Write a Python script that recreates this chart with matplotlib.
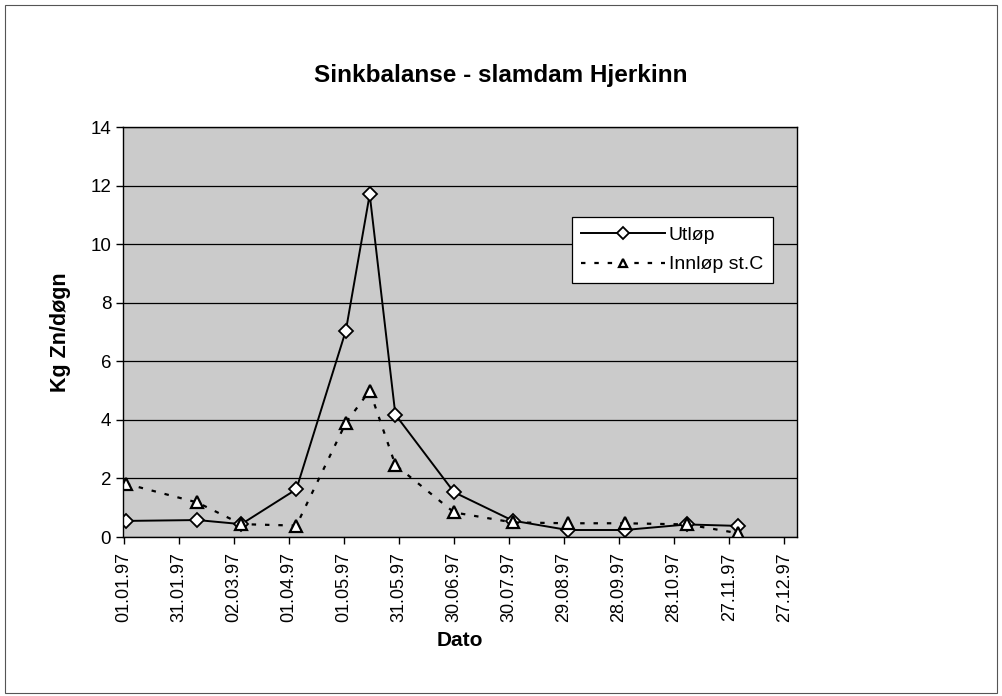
import matplotlib
matplotlib.use('Agg')
import matplotlib.pyplot as plt
from matplotlib.patches import Rectangle
import datetime as dt

# data
dates = ['02.01.97', '10.02.97', '06.03.97', '05.04.97', '02.05.97', '15.05.97',
         '29.05.97', '30.06.97', '01.08.97', '31.08.97', '01.10.97', '04.11.97', '02.12.97']
utlop = [0.55, 0.58, 0.44, 1.63, 7.05, 11.7, 4.18, 1.53, 0.56, 0.24, 0.24, 0.43, 0.38]
innlop = [1.82, 1.18, 0.44, 0.39, 3.9, 5.0, 2.46, 0.84, 0.5, 0.47, 0.47, 0.43, 0.13]

tick_labels = ['01.01.97', '31.01.97', '02.03.97', '01.04.97', '01.05.97', '31.05.97',
               '30.06.97', '30.07.97', '29.08.97', '28.09.97', '28.10.97', '27.11.97', '27.12.97']

x = [dt.datetime.strptime(d, '%d.%m.%y') for d in dates]
xt = [dt.datetime.strptime(d, '%d.%m.%y') for d in tick_labels]

plt.rcParams['font.family'] = ['Liberation Sans', 'DejaVu Sans']

fig = plt.figure(figsize=(10.02, 6.96), dpi=100)
fig.patches.append(Rectangle((0.005, 0.005), 0.99, 0.988, transform=fig.transFigure,
                             fill=False, edgecolor='#555555', linewidth=0.8))

ax = fig.add_axes([0.1228, 0.2284, 0.6726, 0.5891])
ax.set_facecolor('#cbcbcb')

ax.plot(x, utlop, color='black', linewidth=1.4, marker='D', markersize=7,
        markerfacecolor='white', markeredgecolor='black', markeredgewidth=1.3, label='Utløp')
ax.plot(x, innlop, color='black', linewidth=1.6, linestyle=(0, (2, 4)), marker='^', markersize=9,
        markerfacecolor='white', markeredgecolor='black', markeredgewidth=1.6, label='Innløp st.C')

ax.set_ylim(0, 14)
ax.set_yticks(range(0, 15, 2))
ax.set_xlim(xt[0] - dt.timedelta(days=0.5), xt[-1] + dt.timedelta(days=7))
ax.set_xticks(xt)
ax.set_xticklabels(tick_labels, rotation=90, fontsize=13)
ax.tick_params(axis='y', labelsize=13.5, length=5, width=1)
ax.tick_params(axis='x', length=5, width=1, pad=6)
ax.grid(axis='y', color='black', linewidth=0.9)
ax.set_axisbelow(True)
for s in ax.spines.values():
    s.set_linewidth(1.0)

ax.set_ylabel('Kg Zn/døgn', fontsize=15.5, fontweight='bold', labelpad=14)
ax.set_xlabel('Dato', fontsize=15, fontweight='bold', labelpad=6)
fig.text(0.5, 0.892, 'Sinkbalanse - slamdam Hjerkinn', fontsize=17.5, fontweight='bold',
         ha='center', va='center')

leg = ax.legend(loc='upper left', bbox_to_anchor=(0.6657, 0.781), borderaxespad=0,
                fontsize=14, frameon=True, fancybox=False, edgecolor='black', framealpha=1,
                handlelength=4.3, handletextpad=0.2, borderpad=0.5, labelspacing=0.6)
leg.get_frame().set_linewidth(0.9)
for h in leg.legend_handles:
    h.set_markersize(6)

fig.savefig('out.png', dpi=100)
